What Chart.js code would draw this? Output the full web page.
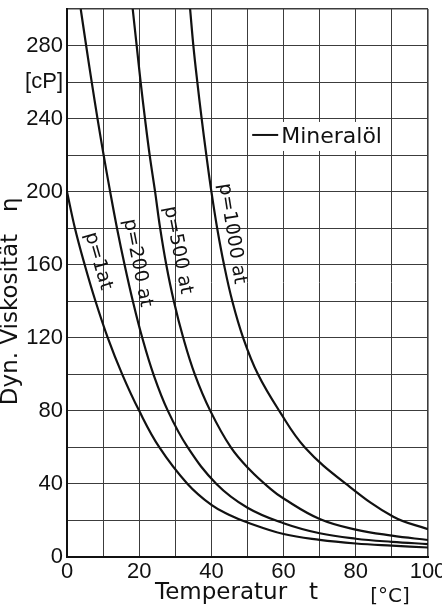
<!DOCTYPE html>
<html lang="de">
<head>
<meta charset="utf-8">
<title>Dynamische Viskosität von Mineralöl</title>
<script src="https://cdn.jsdelivr.net/npm/chart.js@4/dist/chart.umd.min.js"></script>
<style>
  html, body { margin: 0; padding: 0; background: #fff; }
  canvas { display: block; }
</style>
</head>
<body>
<canvas id="chart" width="442" height="611"></canvas>
<script>
// Dynamische Viskosität von Mineralöl [cP] über der Temperatur [°C], je Druckstufe
const seriesNames = ['p=1at', 'p=200 at', 'p=500 at', 'p=1000 at'];

const tempP1 = [0, 2.2, 4.9, 7.9, 11.3, 15.3, 20, 25.6, 33.4, 40, 45, 50, 60, 70, 80, 90, 100];
const etaP1  = [200, 180, 160, 140, 120, 100, 80, 60, 40, 28.5, 23, 18.9, 12.6, 9.4, 7.4, 6.2, 5.2];

const tempP200 = [3.8, 5.3, 6.85, 8.45, 10.15, 11.95, 13.85, 15.95, 18.25, 20.85, 23.95, 27.95, 33.45, 41.4, 50, 60, 70, 80, 90, 100];
const etaP200  = [300, 280, 260, 240, 220, 200, 180, 160, 140, 120, 100, 80, 60, 40, 27, 18.5, 13, 10, 8.3, 7.1];

const tempP500 = [18.2, 19.3, 20.4, 21.6, 22.9, 24.4, 25.8, 27.5, 29.6, 32.2, 35.4, 39.7, 45.4, 50.7, 56.2, 60, 70, 80, 90, 100];
const etaP500  = [300, 280, 260, 240, 220, 200, 180, 160, 140, 120, 100, 80, 60, 47.6, 37.6, 32, 20.8, 15, 11.7, 9.3];

const tempP1000 = [34.1, 35, 36.1, 37.3, 38.6, 40, 41.6, 43.5, 45.8, 48.8, 52.9, 58.8, 65.9, 77.3, 90.4, 100];
const etaP1000  = [300, 280, 260, 240, 220, 200, 180, 160, 140, 120, 100, 80, 60, 40, 22, 15.2];

// Achsen: beschriftete Werte und Einheiten
const xLabelValues = [0, 20, 40, 60, 80, 100];
const yLabelValues = [0, 40, 80, 120, 160, 200, 240, 280];
const yUnitAt = 260;
const yUnitLabel = '[cP]';
const xUnitLabel = '[°C]';
const xTitle = 'Temperatur   t   ';
const yTitle = 'Dyn. Viskosität   η     ';
const legendText = 'Mineralöl';

const ink = '#111';
const gridInk = '#3c3c3c';
const tickFont = { family: "'Liberation Sans', Arial, sans-serif", size: 22 };
const wordFont = { family: "'DejaVu Sans', sans-serif", size: 23, lineHeight: 1 };

function curve(label, temps, etas) {
  return {
    label,
    data: temps.map((t, i) => ({ x: t, y: etas[i] })),
    borderColor: ink,
    borderWidth: 2.2,
    pointRadius: 0,
    fill: false,
    tension: 0.4
  };
}

// Beschriftungen an den Kurven (Lage in Achsenwerten, Schriftneigung in Grad)
const curveNotes = [
  { t: 8.6,  eta: 162, angle: 74 },
  { t: 19.5, eta: 161, angle: 79 },
  { t: 30.7, eta: 168, angle: 79 },
  { t: 45.7, eta: 177, angle: 81 }
];

const annotations = {
  id: 'annotations',
  afterDatasetsDraw(chart) {
    const { ctx } = chart;
    const xs = chart.scales.x, ys = chart.scales.y;
    ctx.save();
    ctx.fillStyle = ink;
    ctx.font = "19px 'DejaVu Sans', sans-serif";
    ctx.textAlign = 'center';
    ctx.textBaseline = 'middle';
    curveNotes.forEach((n, i) => {
      ctx.save();
      ctx.translate(xs.getPixelForValue(n.t), ys.getPixelForValue(n.eta));
      ctx.rotate(n.angle * Math.PI / 180);
      ctx.fillText(seriesNames[i], 0, 0);
      ctx.restore();
    });

    // Legende
    const lx = xs.getPixelForValue(51.3);
    const ly = ys.getPixelForValue(230.5);
    ctx.font = "22px 'DejaVu Sans', sans-serif";
    const tw = ctx.measureText(legendText).width;
    ctx.fillStyle = '#fff';
    ctx.fillRect(lx - 3, ly - 14, 34 + tw, 29);
    ctx.strokeStyle = ink;
    ctx.lineWidth = 2;
    ctx.beginPath();
    ctx.moveTo(lx, ly - 1);
    ctx.lineTo(lx + 26, ly - 1);
    ctx.stroke();
    ctx.fillStyle = ink;
    ctx.textAlign = 'left';
    ctx.fillText(legendText, lx + 29, ly + 1);

    // Einheit der Temperaturachse
    ctx.font = "20px 'DejaVu Sans', sans-serif";
    ctx.textAlign = 'center';
    ctx.textBaseline = 'alphabetic';
    ctx.fillText(xUnitLabel, xs.getPixelForValue(89.5), chart.height - 9);
    ctx.restore();
  }
};

new Chart(document.getElementById('chart'), {
  type: 'line',
  data: {
    datasets: [
      curve(seriesNames[0], tempP1, etaP1),
      curve(seriesNames[1], tempP200, etaP200),
      curve(seriesNames[2], tempP500, etaP500),
      curve(seriesNames[3], tempP1000, etaP1000)
    ]
  },
  options: {
    responsive: false,
    animation: false,
    devicePixelRatio: 1,
    layout: { padding: { top: 9, right: 14, left: 0, bottom: 0 } },
    plugins: { legend: { display: false }, tooltip: { enabled: false } },
    scales: {
      x: {
        type: 'linear',
        min: 0,
        max: 100,
        afterFit(s) { s.height = 54; s.paddingLeft = 0; s.paddingRight = 14; },
        ticks: {
          stepSize: 10,
          autoSkip: false,
          maxRotation: 0,
          padding: 2,
          color: ink,
          font: tickFont,
          callback: v => xLabelValues.includes(v) ? String(v) : ''
        },
        grid: {
          drawTicks: false,
          color: gridInk,
          lineWidth: c => (c.tick && c.tick.value === 100 ? 1.6 : 1)
        },
        border: { display: true, color: ink, width: 2 },
        title: { display: true, text: xTitle, color: ink, font: wordFont, padding: { top: 0, bottom: 6 } }
      },
      y: {
        type: 'linear',
        min: 0,
        max: 300,
        afterFit(s) { s.width = 67; s.paddingTop = 0; s.paddingBottom = 0; },
        ticks: {
          stepSize: 20,
          autoSkip: false,
          padding: 4,
          color: ink,
          font: tickFont,
          callback: v => v === yUnitAt ? yUnitLabel : (yLabelValues.includes(v) ? String(v) : '')
        },
        grid: {
          drawTicks: false,
          color: gridInk,
          lineWidth: c => (c.tick && c.tick.value === 300 ? 1.6 : 1)
        },
        border: { display: true, color: ink, width: 2 },
        title: { display: true, text: yTitle, color: ink, font: wordFont, padding: { top: 0, bottom: 0 } }
      }
    }
  },
  plugins: [annotations]
});
</script>
</body>
</html>
